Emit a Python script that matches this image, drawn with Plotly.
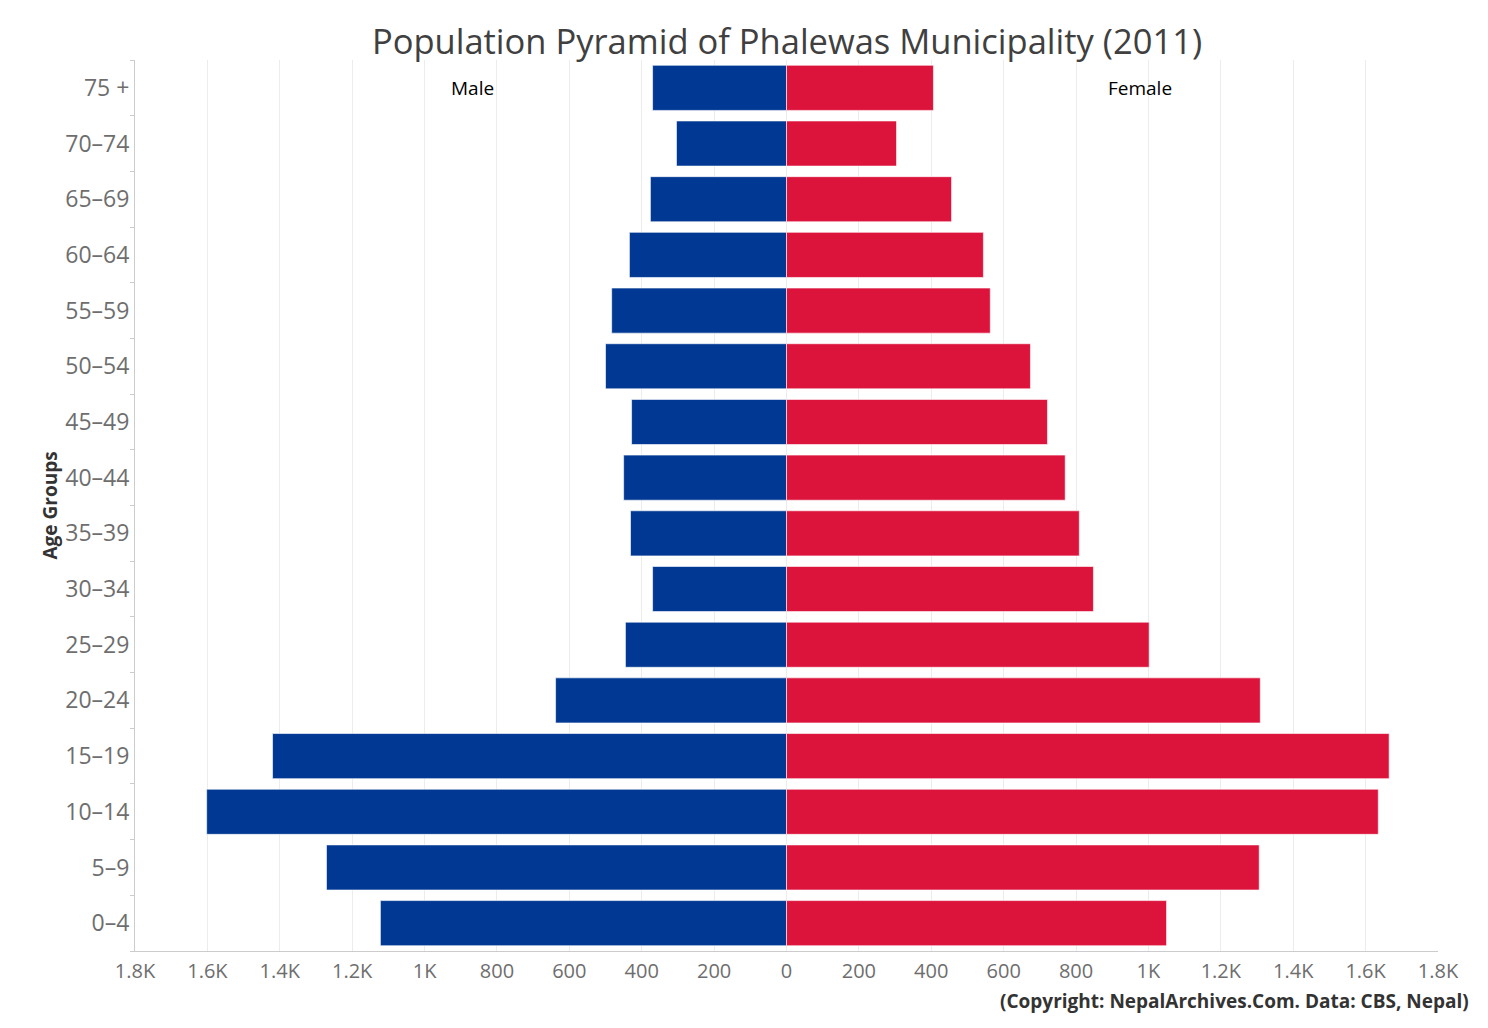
import plotly.graph_objects as go

age_groups = ["0-4", "5-9", "10-14", "15-19", "20-24", "25-29", "30-34", "35-39",
              "40-44", "45-49", "50-54", "55-59", "60-64", "65-69", "70-74", "75 +"]
male = [1122, 1271, 1602, 1420, 638, 445, 370, 431, 450, 428, 500, 483, 434, 376, 304, 370]
female = [1050, 1306, 1635, 1665, 1309, 1002, 848, 809, 770, 721, 674, 563, 544, 456, 304, 406]

tick_vals = [-1800, -1600, -1400, -1200, -1000, -800, -600, -400, -200, 0,
             200, 400, 600, 800, 1000, 1200, 1400, 1600, 1800]
tick_text = ["1.8K", "1.6K", "1.4K", "1.2K", "1K", "800", "600", "400", "200", "0",
             "200", "400", "600", "800", "1K", "1.2K", "1.4K", "1.6K", "1.8K"]

labels = [a.replace("-", "–") for a in age_groups]

font_fam = "Open Sans, sans-serif"

fig = go.Figure()
fig.add_trace(go.Bar(
    y=labels, x=[-v for v in male], orientation="h", name="Male",
    marker=dict(color="#013893", line=dict(color="rgba(255,255,255,0.6)", width=1)),
    customdata=male, hovertemplate="%{y}: %{customdata}<extra>Male</extra>",
))
fig.add_trace(go.Bar(
    y=labels, x=female, orientation="h", name="Female",
    marker=dict(color="#DC143C", line=dict(color="rgba(255,255,255,0.6)", width=1)),
    hovertemplate="%{y}: %{x}<extra>Female</extra>",
))

fig.update_layout(
    width=1488, height=1028,
    barmode="overlay", bargap=0.19,
    showlegend=False,
    paper_bgcolor="white", plot_bgcolor="white",
    margin=dict(l=127, r=58, t=52, b=85, autoexpand=False),
    font=dict(family=font_fam),
    title=dict(text="Population Pyramid of Phalewas Municipality (2011)",
               x=779 / 1488, xanchor="center", xref="container",
               y=1 - 34 / 1028, yanchor="middle", yref="container",
               font=dict(size=34.5, color="#404040", family=font_fam)),
    xaxis=dict(
        range=[-1800, 1800], tickvals=tick_vals, ticktext=tick_text,
        showgrid=True, gridcolor="#ececec", gridwidth=1,
        zeroline=False, showline=True, linecolor="#cccccc", linewidth=1,
        ticks="", ticklabelstandoff=2,
        tickfont=dict(size=20, color="#6e6e6e"),
        fixedrange=True,
    ),
    yaxis=dict(
        categoryorder="array", categoryarray=labels,
        showline=True, linecolor="#cccccc", linewidth=1,
        ticks="outside", ticklen=4, tickcolor="#cccccc", tickson="boundaries",
        tickfont=dict(size=23, color="#6e6e6e"),
        showgrid=False, fixedrange=True,
    ),
    annotations=[
        dict(x=-867, y="75 +", xref="x", yref="y", text="Male", showarrow=False,
             font=dict(size=19, color="#000000")),
        dict(x=978, y="75 +", xref="x", yref="y", text="Female", showarrow=False,
             font=dict(size=19, color="#000000")),
        dict(x=0, y=0.5, xref="paper", yref="paper", xshift=-86, text="<b>Age Groups</b>",
             textangle=-90, showarrow=False, xanchor="center", yanchor="middle",
             font=dict(size=19, color="#333333")),
        dict(x=1.0, y=-0.056, xref="paper", yref="paper", xanchor="right", yanchor="middle",
             xshift=33, text="<b>(Copyright: NepalArchives.Com. Data: CBS, Nepal)</b>",
             showarrow=False, font=dict(size=19, color="#333333")),
    ],
)

fig.write_html("out.html")
